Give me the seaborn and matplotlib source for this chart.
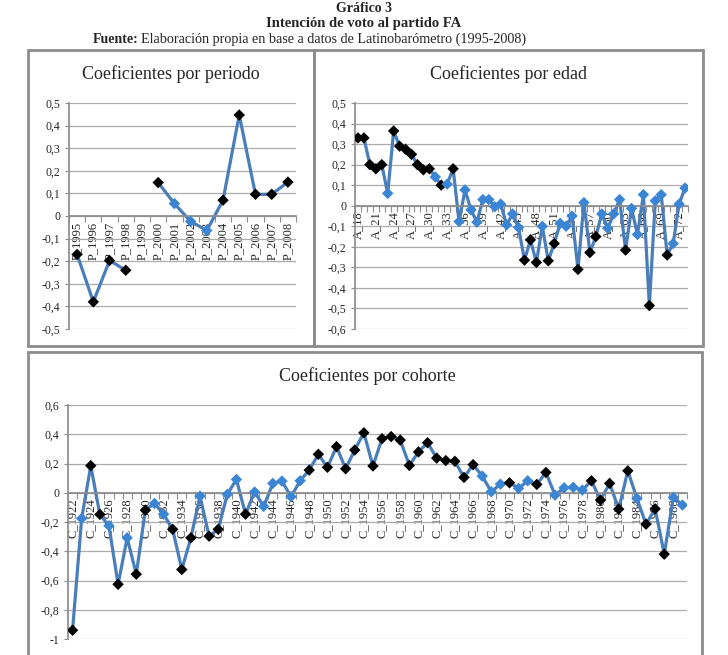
import numpy as np
import pandas as pd
import seaborn as sns
import matplotlib.pyplot as plt
from matplotlib.patches import Rectangle

# %%
# valores (1 = marcador negro, 0 = marcador azul)
periodos = ['P_1995', 'P_1996', 'P_1997', 'P_1998', 'P_1999', 'P_2000', 'P_2001',
            'P_2002', 'P_2003', 'P_2004', 'P_2005', 'P_2006', 'P_2007', 'P_2008']
coef_periodo = [-0.17, -0.38, -0.197, -0.24, np.nan, 0.148, 0.055,
                -0.024, -0.064, 0.07, 0.447, 0.096, 0.096, 0.15]
sig_periodo = [1, 1, 1, 1, 0, 1, 0, 0, 0, 1, 1, 1, 1, 1]
tramo_periodo = [0, 0, 0, 0, 0, 1, 1, 1, 1, 1, 1, 1, 1, 1]

edades = ['A_' + str(a) for a in range(18, 74)]
coef_edad = [0.33, 0.33, 0.20, 0.18, 0.20, 0.06, 0.364, 0.29, 0.275, 0.25,
             0.20, 0.175, 0.18, 0.14, 0.10, 0.105, 0.18, -0.077, 0.077, -0.02,
             -0.08, 0.03, 0.03, -0.005, 0.008, -0.093, -0.04, -0.106, -0.265, -0.166,
             -0.276, -0.10, -0.268, -0.184, -0.086, -0.10, -0.05, -0.31, 0.015, -0.228,
             -0.15, -0.04, -0.11, -0.04, 0.03, -0.216, -0.013, -0.14, 0.054, -0.486,
             0.024, 0.054, -0.24, -0.184, 0.008, 0.086]
sig_edad = [1, 1, 1, 1, 1, 0, 1, 1, 1, 1,
            1, 1, 1, 0, 1, 0, 1, 0, 0, 0,
            0, 0, 0, 0, 0, 0, 0, 0, 1, 1,
            1, 0, 1, 1, 0, 0, 0, 1, 0, 1,
            1, 0, 0, 0, 0, 1, 0, 0, 0, 1,
            0, 0, 1, 0, 0, 0]

cohortes = ['C_' + str(c) for c in range(1922, 1990)]
coef_cohorte = [-0.94, -0.176, 0.185, -0.148, -0.226, -0.626, -0.308, -0.557, -0.119, -0.073,
                -0.146, -0.25, -0.525, -0.308, -0.023, -0.297, -0.25, -0.011, 0.091, -0.146,
                0.005, -0.093, 0.064, 0.08, -0.027, 0.082, 0.155, 0.263, 0.174, 0.315,
                0.164, 0.292, 0.41, 0.183, 0.37, 0.384, 0.36, 0.187, 0.279, 0.342,
                0.237, 0.22, 0.215, 0.105, 0.192, 0.114, 0.007, 0.059, 0.068, 0.03,
                0.082, 0.057, 0.139, -0.016, 0.034, 0.037, 0.018, 0.082, -0.05, 0.064,
                -0.112, 0.15, -0.039, -0.215, -0.11, -0.42, -0.032, -0.084]
sig_cohorte = [1, 0, 1, 1, 0, 1, 0, 1, 1, 0,
               0, 1, 1, 1, 0, 1, 1, 0, 0, 1,
               0, 0, 0, 0, 0, 0, 1, 1, 1, 1,
               1, 1, 1, 1, 1, 1, 1, 1, 1, 1,
               1, 1, 1, 1, 1, 0, 0, 0, 1, 0,
               0, 1, 1, 0, 0, 0, 0, 1, 1, 1,
               1, 1, 0, 1, 1, 1, 0, 0]

# %%
sns.set_theme(style='white')
plt.rcParams['font.family'] = ['Liberation Serif', 'DejaVu Serif']

W, H = 728, 655
GRIS = '#8C8C8C'
LINEA = '#4A7EBB'
AZUL = '#3A86D4'


def caja(l, t, r, b):
    return [l / W, 1 - b / H, (r - l) / W, (b - t) / H]


def etiqueta(v):
    if abs(v) < 1e-9:
        return '0'
    s = f'{v:.1f}'.replace('.', ',')
    if s.endswith(',0'):
        s = s[:-2]
    return s


def dibujar(ax, etiquetas, valores, signif, ymin, ymax, paso, cada, tramos=None):
    n = len(etiquetas)
    df = pd.DataFrame({'x': np.arange(n), 'coef': valores,
                       'sig': ['si' if s else 'no' for s in signif],
                       'tramo': tramos if tramos is not None else [0] * n})
    df = df.dropna()
    sns.lineplot(data=df, x='x', y='coef', units='tramo', estimator=None, sort=False,
                 color=LINEA, lw=2.3, ax=ax, zorder=2)
    sns.scatterplot(data=df, x='x', y='coef', hue='sig', palette={'si': 'black', 'no': AZUL},
                    marker='D', s=34, linewidth=0, legend=False, ax=ax, zorder=3)
    # el eje x cruza en 0, como en Excel (antes de fijar las etiquetas)
    ax.spines['bottom'].set_position(('data', 0))
    ax.spines['bottom'].set_color(GRIS)
    ax.spines['left'].set_color(GRIS)
    for s in ['top', 'right']:
        ax.spines[s].set_visible(False)
    ax.set_xlim(-0.5, n - 0.5)
    ax.set_ylim(ymin, ymax)
    yt = np.round(np.arange(ymin, ymax + 1e-9, paso), 2)
    ax.set_yticks(yt)
    ax.set_yticklabels([etiqueta(v) for v in yt], fontsize=8.5)
    ax.yaxis.grid(True, color='#ABABAB', lw=0.9)
    ax.xaxis.grid(False)
    ax.set_xticks(np.arange(0, n, cada))
    ax.set_xticklabels(etiquetas[::cada], rotation=90, fontsize=9, va='top', ha='center')
    ax.set_xticks(np.arange(-0.5, n, 1), minor=True)
    ax.tick_params(axis='x', which='major', length=0, pad=4)
    ax.tick_params(axis='x', which='minor', length=4, width=0.8, color=GRIS, direction='out', bottom=True)
    ax.tick_params(axis='y', length=3, width=0.8, color=GRIS, pad=3, left=True)
    ax.set_xlabel('')
    ax.set_ylabel('')


fig = plt.figure(figsize=(W / 100, H / 100), dpi=100)

ax1 = fig.add_axes(caja(69, 103, 296, 329))
dibujar(ax1, periodos, coef_periodo, sig_periodo, -0.5, 0.5, 0.1, 1, tramo_periodo)

ax2 = fig.add_axes(caja(355, 103, 688, 329))
dibujar(ax2, edades, coef_edad, sig_edad, -0.6, 0.5, 0.1, 3)

ax3 = fig.add_axes(caja(68, 405, 687, 639))
dibujar(ax3, cohortes, coef_cohorte, sig_cohorte, -1.0, 0.6, 0.2, 2)

# marcos de los tres graficos
for l, t, r, b in [(28, 50, 314, 346), (314, 50, 703, 346), (28, 352, 702, 662)]:
    fig.add_artist(Rectangle((l / W, 1 - b / H), (r - l) / W, (b - t) / H,
                             transform=fig.transFigure, fill=False, ec=GRIS, lw=2))


def texto(x, y, s, **kw):
    fig.text(x / W, 1 - y / H, s, va='center', **kw)


texto(364, 8, 'Gráfico 3', ha='center', fontsize=10, fontweight='bold')
texto(364, 23.5, 'Intención de voto al partido FA', ha='center', fontsize=10.5, fontweight='bold')
texto(93, 39.5, 'Fuente:', ha='left', fontsize=10, fontweight='bold')
texto(141, 39.5, 'Elaboración propia en base a datos de Latinobarómetro (1995-2008)', ha='left', fontsize=10.2)
texto(171, 74, 'Coeficientes por periodo', ha='center', fontsize=13)
texto(509, 74, 'Coeficientes por edad', ha='center', fontsize=13)
texto(367, 376, 'Coeficientes por cohorte', ha='center', fontsize=13)

fig.savefig('out.png', dpi=100)
